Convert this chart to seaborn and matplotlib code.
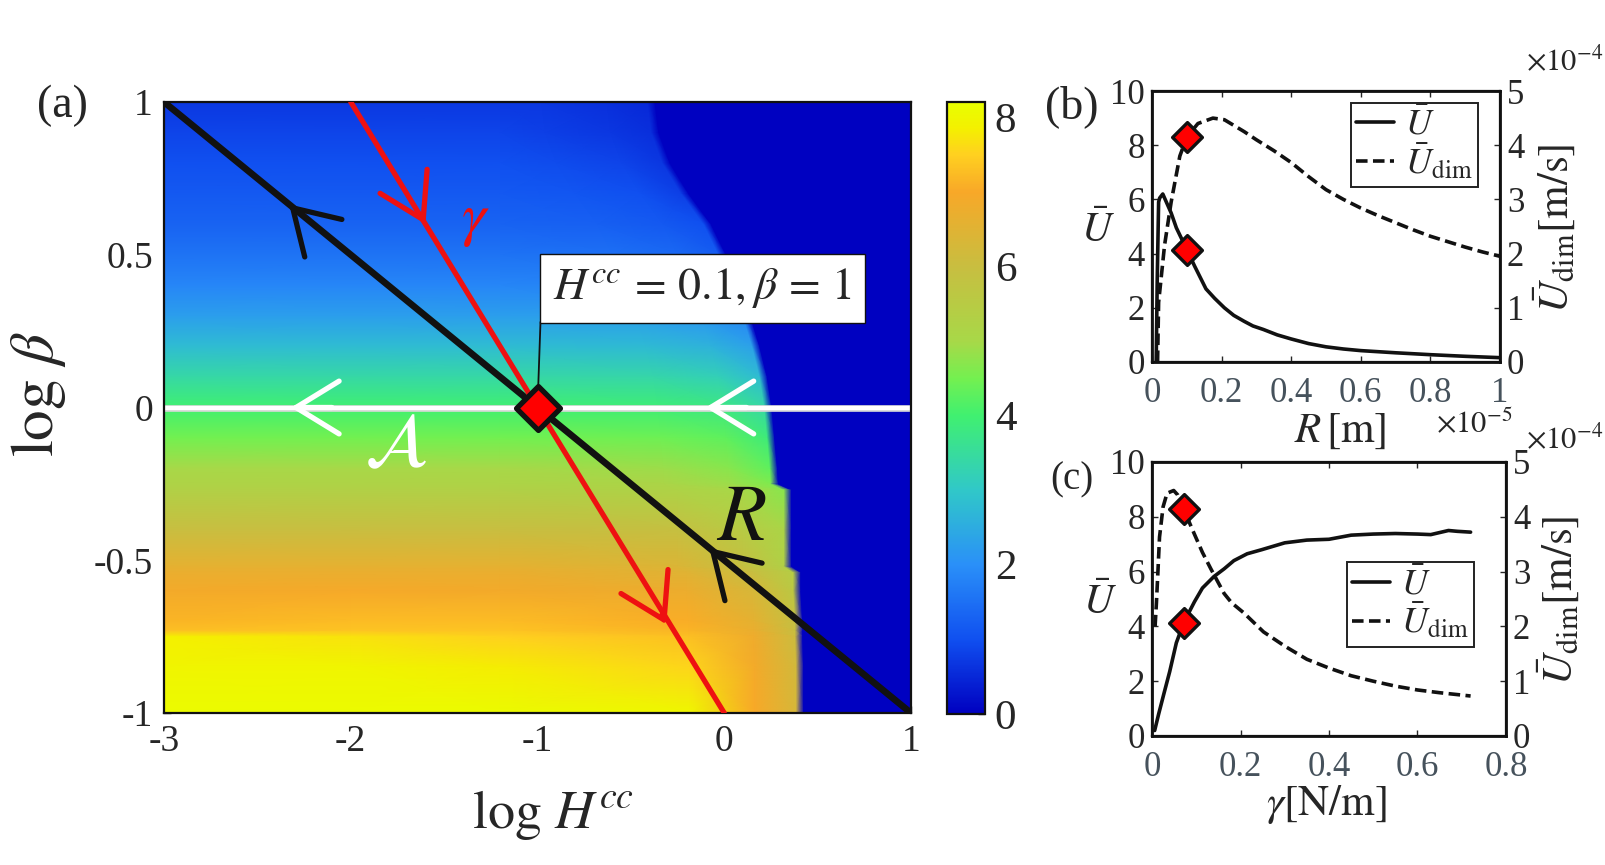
import numpy as np
import seaborn as sns
import matplotlib.pyplot as plt
from matplotlib.colors import LinearSegmentedColormap
from matplotlib.lines import Line2D

# map panel: one row per log beta
log_beta = [1.0, 0.9, 0.8, 0.7, 0.6, 0.5, 0.4, 0.3, 0.2, 0.1, 0.0, -0.1, -0.2, -0.25,
            -0.27, -0.4, -0.52, -0.54, -0.6, -0.7, -0.73, -0.75, -0.85, -1.0]
# where the dark blue region starts on each row (log H^cc)
edge_h = [-0.38, -0.36, -0.3, -0.2, -0.08, 0.0, 0.07, 0.13, 0.18, 0.22, 0.245, 0.26, 0.275, 0.28,
          0.35, 0.35, 0.35, 0.40, 0.40, 0.41, 0.41, 0.41, 0.415, 0.415]
# values at log H^cc = -3, -2, -1.2, then 0.6, 0.25 and 0.03 before the edge
map_values = [
    [0.70, 0.70, 0.70, 0.70, 0.60, 0.50],
    [0.85, 0.85, 0.85, 0.80, 0.70, 0.60],
    [1.00, 1.00, 1.00, 0.95, 0.85, 0.70],
    [1.15, 1.15, 1.15, 1.10, 1.00, 0.80],
    [1.30, 1.30, 1.30, 1.25, 1.15, 1.00],
    [1.55, 1.55, 1.55, 1.50, 1.40, 1.20],
    [1.85, 1.85, 1.85, 1.80, 1.70, 1.45],
    [2.25, 2.25, 2.25, 2.25, 2.10, 1.85],
    [2.80, 2.80, 2.80, 2.75, 2.60, 2.30],
    [3.40, 3.40, 3.40, 3.35, 3.20, 2.80],
    [4.00, 4.00, 4.00, 3.95, 3.80, 3.40],
    [4.50, 4.50, 4.50, 4.45, 4.30, 3.90],
    [5.00, 5.00, 5.00, 4.90, 4.70, 4.30],
    [5.20, 5.20, 5.20, 5.10, 4.90, 4.60],
    [5.30, 5.30, 5.30, 5.20, 5.00, 4.70],
    [6.00, 6.00, 6.00, 5.90, 5.50, 5.10],
    [6.60, 6.60, 6.60, 6.40, 5.90, 5.30],
    [6.70, 6.70, 6.70, 6.50, 6.00, 5.40],
    [6.90, 6.95, 6.90, 6.75, 6.30, 5.60],
    [7.15, 7.25, 7.25, 7.05, 6.60, 5.90],
    [7.30, 7.35, 7.35, 7.15, 6.70, 6.00],
    [7.85, 7.70, 7.50, 7.30, 6.80, 6.10],
    [7.95, 7.95, 7.80, 7.55, 6.90, 6.20],
    [8.10, 8.10, 8.10, 8.00, 7.00, 6.30],
]
cmap_colors = ['#0000c0', '#1050f0', '#2a90f8', '#30c8c8', '#40f070', '#74f050',
               '#a8d848', '#c8be40', '#f8a828', '#ffd020', '#f4f000', '#e8ff00']
cmap_stops = [0, 1, 2, 3, 4, 4.5, 5, 6, 7, 7.5, 7.85, 8.2]

# panel b
R_solid = [0.012, 0.015, 0.019, 0.022, 0.031, 0.055, 0.07, 0.1, 0.122, 0.155, 0.18, 0.208, 0.235, 0.265, 0.29,
           0.32, 0.36, 0.4, 0.45, 0.5, 0.55, 0.6, 0.7, 0.8, 0.9, 1.0]
U_solid = [0.0, 3.0, 5.9, 6.05, 6.2, 5.5, 4.95, 4.15, 3.55, 2.7, 2.35, 2.0, 1.72, 1.5, 1.33,
           1.2, 1.0, 0.85, 0.68, 0.56, 0.48, 0.42, 0.34, 0.27, 0.21, 0.16]
R_dash = [0.016, 0.019, 0.036, 0.055, 0.08, 0.1, 0.132, 0.175, 0.208, 0.265, 0.3, 0.35,
          0.4, 0.45, 0.5, 0.55, 0.6, 0.65, 0.7, 0.75, 0.8, 0.85, 0.9, 0.95, 1.0]
Udim_R = [0.0, 1.1, 2.15, 2.95, 3.8, 4.15, 4.4, 4.5, 4.47, 4.25, 4.1, 3.9,
          3.68, 3.42, 3.18, 3.0, 2.84, 2.7, 2.57, 2.44, 2.32, 2.22, 2.12, 2.03, 1.95]

# panel c
gamma_solid = [0.006, 0.015, 0.027, 0.04, 0.055, 0.072, 0.096, 0.114, 0.14, 0.163, 0.185, 0.215, 0.248,
               0.3, 0.35, 0.4, 0.45, 0.5, 0.55, 0.6, 0.63, 0.67, 0.69, 0.72]
U_gamma = [0.2, 0.8, 1.55, 2.35, 3.4, 4.15, 4.9, 5.4, 5.82, 6.1, 6.4, 6.65, 6.8,
           7.05, 7.15, 7.18, 7.33, 7.37, 7.39, 7.37, 7.35, 7.5, 7.47, 7.44]
gamma_dash = [0.007, 0.01, 0.0134, 0.017, 0.025, 0.034, 0.049, 0.058, 0.072, 0.096, 0.114, 0.133,
              0.163, 0.18, 0.207, 0.252, 0.3, 0.35, 0.4, 0.45, 0.5, 0.55, 0.6, 0.65, 0.72]
Udim_gamma = [2.0, 2.43, 3.0, 3.63, 4.18, 4.43, 4.48, 4.4, 4.13, 3.68, 3.35, 3.05,
              2.6, 2.43, 2.25, 1.9, 1.64, 1.4, 1.24, 1.1, 1.0, 0.91, 0.84, 0.79, 0.73]

W, H = 1605, 865
sns.set_theme(style='ticks', rc={'axes.unicode_minus': False, 'mathtext.fontset': 'stix',
                                 'axes.linewidth': 1.6, 'axes.edgecolor': '#111111'})
plt.rcParams['font.family'] = ['Liberation Serif', 'DejaVu Serif']

fig = plt.figure(figsize=(W / 100, H / 100), dpi=100)


# axes from pixel box
def box(left, top, right, bottom):
    return fig.add_axes([left / W, 1 - bottom / H, (right - left) / W, (bottom - top) / H])


def label(x, y, s, size, **kw):
    fig.text(x / W, 1 - y / H, s, fontsize=size, ha='center', va='center', **kw)


ax = box(164, 102, 911, 713)
cax = box(947, 102, 985, 714)

# bends of the map: fixed on the left, following the edge on the right
edge = np.array(edge_h)
rows = np.ones_like(edge)
X = np.column_stack([-3 * rows, -2 * rows, -1.2 * rows, edge - 0.6, edge - 0.25, edge - 0.03, edge + 0.01, rows])
Y = np.repeat(np.array(log_beta)[:, None], X.shape[1], axis=1)
Z = np.column_stack([np.array(map_values), 0.02 * rows, 0.02 * rows])

cmap = LinearSegmentedColormap.from_list('blue_yellow', [(s / 8.2, c) for s, c in zip(cmap_stops, cmap_colors)], N=512)
mesh = ax.pcolormesh(X, Y, Z, shading='gouraud', cmap=cmap, vmin=0, vmax=8.2)
ax.set_xlim(-3, 1)
ax.set_ylim(-1, 1)

cb = fig.colorbar(mesh, cax=cax, ticks=[0, 2, 4, 6, 8])
cb.ax.tick_params(direction='in', length=5, width=1, labelsize=31, pad=7)
cb.outline.set_linewidth(1.6)

# the three sweep lines
sns.lineplot(x=[-3, 1], y=[1, -1], ax=ax, color='#111111', lw=4.8, zorder=3)
sns.lineplot(x=[-2, 0], y=[1, -1], ax=ax, color='#ee1111', lw=3.8, zorder=4)
sns.lineplot(x=[-3, 1], y=[0, 0], ax=ax, color='#d8d8d8', lw=4.8, zorder=2)
sns.lineplot(x=[-3, 1], y=[0, 0], ax=ax, color='white', lw=3, zorder=2)


# short stem, the sweep line itself carries the arrow
def chevron(tip, lean, color):
    back = (tip[0] + lean[0], tip[1] + lean[1])
    ax.annotate('', xy=tip, xytext=back, zorder=5,
                arrowprops=dict(arrowstyle='->,head_length=3.1,head_width=1.9', mutation_scale=10,
                                color=color, lw=3.8, shrinkA=0, shrinkB=0))


chevron((-2.33, 0.665), (0.038, -0.023), '#111111')
chevron((-0.08, -0.46), (0.038, -0.023), '#111111')
chevron((-1.6, 0.6), (-0.025, 0.03), '#ee1111')
chevron((-0.31, -0.71), (-0.025, 0.03), '#ee1111')
chevron((-2.32, 0.0), (0.22, 0.0), 'white')
chevron((-0.1, 0.0), (0.22, 0.0), 'white')

ax.text(-1.33, 0.61, r'$\gamma$', color='#ee1111', fontsize=44, ha='center', va='center', zorder=6)
ax.text(-1.76, -0.13, r'$\mathcal{A}$', color='white', fontsize=54, ha='center', va='center', zorder=6)
ax.text(0.09, -0.37, r'$R$', color='#111111', fontsize=58, ha='center', va='center', zorder=6)

# leader and box of the marked point
ax.annotate('', xy=(-1, 0), xytext=(-0.984, 0.28), zorder=6,
            arrowprops=dict(arrowstyle='-', color='#111111', lw=1.3, shrinkA=0, shrinkB=0))
ax.text(-0.118, 0.39, r'$H^{cc}\,=\,0.1,\beta\,=\,1$', fontsize=33, ha='center', va='center', zorder=7,
        bbox=dict(boxstyle='square,pad=0.28', fc='white', ec='#111111', lw=1))
sns.scatterplot(x=[-1], y=[0], ax=ax, marker='D', s=500, color='#ff0000', edgecolor='#111111',
                linewidth=3.8, zorder=8, clip_on=False)

ax.set_xticks([-3, -2, -1, 0, 1], labels=['-3', '-2', '-1', '0', '1'])
ax.set_yticks([-1, -0.5, 0, 0.5, 1], labels=['-1', '-0.5', '0', '0.5', '1'])
ax.tick_params(direction='in', length=5, width=1, labelsize=27, pad=8)
label(553, 815, r'$\log\,H^{cc}$', 39)
label(38, 394, r'$\log\,\beta$', 44, rotation=90)
label(62, 106, '(a)', 33)


def side_panel(rect, xa, ya, xb, yb, xticks, xlabels, xmax, legend_at):
    left = box(*rect)
    right = left.twinx()
    sns.lineplot(x=xa, y=ya, ax=left, color='#111111', lw=2.6, sort=False, estimator=None)
    sns.lineplot(x=xb, y=yb, ax=right, color='#111111', lw=2.6, sort=False, estimator=None,
                 linestyle=(0, (3.2, 1.5)))
    left.set_xlim(0, xmax)
    left.set_ylim(0, 10)
    right.set_ylim(0, 5)
    left.set_xticks(xticks, labels=xlabels)
    left.set_yticks([0, 2, 4, 6, 8, 10])
    right.set_yticks([0, 1, 2, 3, 4, 5])
    left.tick_params(axis='y', direction='in', length=4, width=1, labelsize=25, pad=5)
    left.tick_params(axis='x', direction='in', length=4, width=1, labelsize=25, pad=11, labelcolor='#46525c')
    left.tick_params(top=True)
    right.tick_params(axis='y', direction='in', length=4, width=1, labelsize=25, pad=5)
    for spine in right.spines.values():
        spine.set_linewidth(2)
    handles = [Line2D([], [], color='#111111', lw=2.6),
               Line2D([], [], color='#111111', lw=2.6, linestyle=(0, (3.2, 1.5)))]
    right.legend(handles, [r'$\bar{U}$', r'$\bar{U}_{\mathrm{dim}}$'], loc='lower left', bbox_to_anchor=legend_at,
                 fontsize=26, frameon=True, fancybox=False, framealpha=1, edgecolor='#222222',
                 handlelength=1.05, labelspacing=0.0, borderpad=0.15, handletextpad=0.3, borderaxespad=0)
    right.get_legend().get_frame().set_linewidth(1.4)
    return left, right


# panel b
left_b, right_b = side_panel((1152, 91, 1500, 362), R_solid, U_solid, R_dash, Udim_R,
                             [0, 0.2, 0.4, 0.6, 0.8, 1], ['0', '0.2', '0.4', '0.6', '0.8', '1'], 1, (0.571, 0.644))
sns.scatterplot(x=[0.1], y=[4.15], ax=left_b, marker='D', s=230, color='#ff0000', edgecolor='#111111',
                linewidth=2.4, zorder=8)
sns.scatterplot(x=[0.1], y=[4.15], ax=right_b, marker='D', s=230, color='#ff0000', edgecolor='#111111',
                linewidth=2.4, zorder=8)
label(1340, 431, r'$R\,[\mathrm{m}]$', 31)
label(1098, 231, r'$\bar{U}$', 30)
label(1554, 228, r'$\bar{U}_{\mathrm{dim}}[\mathrm{m/s}]$', 31, rotation=90)
label(1565, 62, r'$\times10^{-4}$', 22)
label(1474, 425, r'$\times10^{-5}$', 22)
label(1072, 107, '(b)', 33)

# panel c
left_c, right_c = side_panel((1152, 462, 1506, 736), gamma_solid, U_gamma, gamma_dash, Udim_gamma,
                             [0, 0.2, 0.4, 0.6, 0.8], ['0', '0.2', '0.4', '0.6', '0.8'], 0.8, (0.55, 0.325))
sns.scatterplot(x=[0.072], y=[4.15], ax=right_c, marker='D', s=230, color='#ff0000', edgecolor='#111111',
                linewidth=2.4, zorder=8)
sns.scatterplot(x=[0.072], y=[4.12], ax=left_c, marker='D', s=230, color='#ff0000', edgecolor='#111111',
                linewidth=2.4, zorder=8)
label(1326, 805, r'$\gamma[\mathrm{N/m}]$', 31)
label(1100, 603, r'$\bar{U}$', 30)
label(1558, 600, r'$\bar{U}_{\mathrm{dim}}[\mathrm{m/s}]$', 31, rotation=90)
label(1565, 440, r'$\times10^{-4}$', 22)
label(1072, 480, '(c)', 28)

fig.savefig('out.png', dpi=100)
